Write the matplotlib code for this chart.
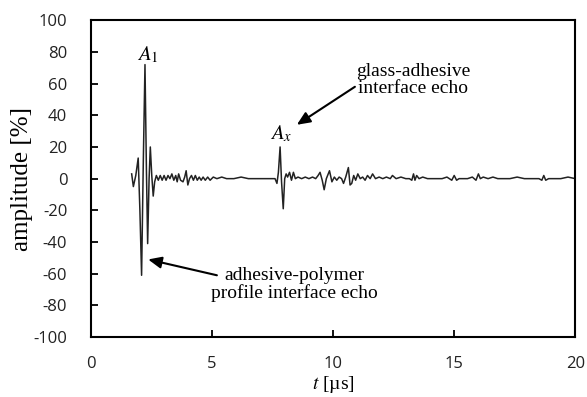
import matplotlib
matplotlib.use("Agg")
import matplotlib.pyplot as plt

plt.rcParams["mathtext.fontset"] = "stix"
plt.rcParams["axes.unicode_minus"] = False

# echo signal (time in us, amplitude in %)
t = [1.68, 1.75, 1.85, 1.95, 2.02, 2.09, 2.16, 2.23, 2.29, 2.34, 2.40, 2.45, 2.51, 2.57,
     2.63, 2.70, 2.78, 2.86, 2.94, 3.02, 3.10, 3.18, 3.26, 3.34, 3.42, 3.50, 3.56, 3.62,
     3.70, 3.80, 3.87, 3.93, 4.00, 4.07, 4.15, 4.23, 4.31, 4.39, 4.47, 4.55, 4.63, 4.72,
     4.82, 4.92, 5.05, 5.20, 5.40, 5.60, 5.90, 6.20, 6.50, 6.80, 7.10, 7.40, 7.60, 7.68,
     7.74, 7.81, 7.87, 7.94, 8.00, 8.06, 8.12, 8.20, 8.28, 8.36, 8.44, 8.55, 8.70, 8.85,
     9.00, 9.15, 9.28, 9.38, 9.46, 9.55, 9.63, 9.72, 9.85, 9.95, 10.05, 10.15, 10.25, 10.35,
     10.43, 10.52, 10.63, 10.70, 10.77, 10.85, 10.93, 11.02, 11.12, 11.22, 11.32, 11.42,
     11.53, 11.63, 11.75, 11.90, 12.05, 12.20, 12.36, 12.45, 12.60, 12.80, 13.00, 13.15,
     13.25, 13.32, 13.38, 13.45, 13.55, 13.70, 13.90, 14.10, 14.30, 14.50, 14.70, 14.90,
     15.00, 15.10, 15.20, 15.35, 15.55, 15.75, 15.90, 16.00, 16.08, 16.20, 16.40, 16.60,
     16.80, 17.00, 17.30, 17.60, 17.90, 18.20, 18.50, 18.62, 18.70, 18.78, 18.90, 19.10,
     19.40, 19.70, 20.00]
amp = [3, -5, 2, 13, -20, -61, 10, 72, 5, -41, 0, 20, 2, -11,
       -2, 2, -1, 2, -1, 2, -1, 2, 0, 3, -1, 2, -2, 3,
       -1, -2, 1, 5, -4, 0, 2, -1, 2, -1, 1, -1, 1, -1,
       1, -1, 1, 0, 1, 0, 0, 1, 0, 0, 0, 0, 0, -3,
       4, 20, -2, -19, 0, 3, 1, 4, -1, 4, 0, 1, 0, 1,
       0, 1, 0, 2, 4, -1, -7, 0, 5, -2, 1, -1, 1, 0,
       -3, 1, 7, -4, -3, 2, -1, 3, 0, 1, -1, 2,
       0, 3, 0, 1, 0, 1, 0, 2, 0, 1, 0, 0,
       -1, 3, -1, 2, 0, 1, 0, 0, 0, 0, 1, -1,
       2, -1, 0, 0, 0, 1, -1, 3, 0, 1, 0, 1,
       0, 0, 0, 1, 0, 0, 0, -1, 2, -1, 0, 0,
       0, 1, 0]

xticks = [0, 5, 10, 15, 20]
yticks = list(range(-100, 101, 20))

fig = plt.figure(figsize=(5.87, 3.97), dpi=100)
ax = fig.add_axes([0.155, 0.151, 0.825, 0.798])

ax.plot(t, amp, color="#222222", lw=1.1)

ax.set_xlim(0, 20)
ax.set_ylim(-100, 100)
ax.set_xticks(xticks)
ax.set_yticks(yticks)
ax.tick_params(direction="in", length=5, width=1.3, labelsize=12)
ax.tick_params(axis="x", pad=14)
ax.tick_params(axis="y", pad=17)
for lab in ax.get_xticklabels() + ax.get_yticklabels():
    lab.set_family("Open Sans")
    lab.set_color("#222222")
for s in ax.spines.values():
    s.set_linewidth(1.5)

serif = "Liberation Serif"
ax.set_xlabel(r"$t$ [µs]", family=serif, fontsize=14, labelpad=1)
ax.set_ylabel("amplitude [%]", family=serif, fontsize=18, labelpad=0)

ax.text(2.36, 75, r"$A_1$", fontsize=15, ha="center", va="baseline")
ax.text(7.85, 25, r"$A_x$", fontsize=15, ha="center", va="baseline")

arrow = dict(arrowstyle="-|>,head_length=0.8,head_width=0.35", color="black", lw=1.5,
             shrinkA=0, shrinkB=0)
ax.annotate("", xy=(8.5, 34), xytext=(10.9, 58), arrowprops=arrow)
ax.text(13.3, 62, "glass-adhesive\ninterface echo", family=serif, fontsize=14,
        ha="center", va="center", linespacing=1.0)

ax.annotate("", xy=(2.36, -51), xytext=(5.2, -61), arrowprops=arrow)
ax.text(8.4, -67, "adhesive-polymer\nprofile interface echo", family=serif, fontsize=14,
        ha="center", va="center", linespacing=1.0)

fig.savefig("out.png", dpi=100)
